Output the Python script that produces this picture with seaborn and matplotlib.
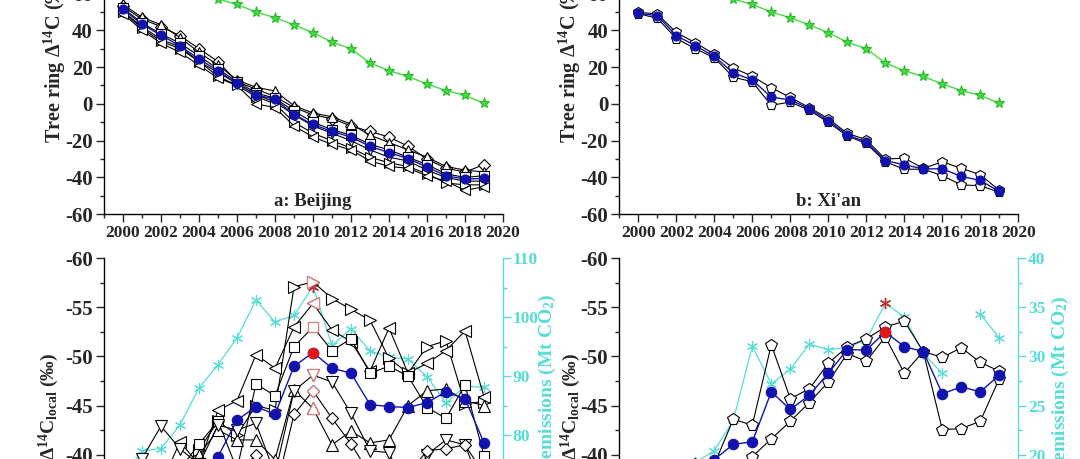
import numpy as np
import matplotlib
matplotlib.use("Agg")
import matplotlib.pyplot as plt
import seaborn as sns
from matplotlib.ticker import MultipleLocator

years = list(range(2000, 2020))

# clean air reference (green stars), same in both top panels
clean_air = [78, 74, 70, 66, 62, 57, 54, 49.9, 46.8, 42.9, 38.7, 33.5, 30, 22.2, 18, 14.9, 10.8, 7.2, 4.6, 0.3]

# Beijing tree ring D14C
bj_mean = [51.3, 43.2, 37.3, 31.5, 24.3, 18, 11.1, 4.9, 2.5, -5.8, -11.2, -15, -18, -23.1, -26.5, -29.7, -34.3, -39.1, -40.9, -40.5]
bj_diamond = [53, 46, 42, 37, 30, 23, 12, 8, 4, -2, -6, -8, -12, -15, -18, -23, -30, -35, -37, -33]
bj_up = [54, 47, 43, 36, 28, 21, 13, 9, 7, -1, -5, -7, -11, -17, -21, -25, -29, -34, -36, -37]
bj_square = [52, 44, 38, 33, 26, 19, 12, 6, 3, -4, -10, -14, -17, -22, -25, -29, -33, -38, -40, -39]
bj_down = [50, 42, 35, 31, 23, 17, 11, 5, 1, -6, -12, -16, -20, -25, -29, -31, -36, -40, -42, -42]
bj_right = [50, 41, 34, 30, 23, 15, 10, 4, 0, -10, -16, -20, -24, -29, -32, -34, -38, -43, -44, -44]
bj_left = [49, 40, 33, 28, 21, 14, 10, 0, -2, -12, -18, -22, -25, -31, -34, -35, -39, -42, -47, -45]

# Xi'an tree ring D14C
xa_mean = [49.2, 47.9, 37.1, 31.6, 25.8, 16.8, 13.0, 3.6, 2.2, -2.7, -9.1, -16.8, -20.8, -30.8, -33.1, -35.3, -35.3, -39.4, -41.6, -47.6]
xa_tree_a = [49.8, 48.8, 38.8, 33.2, 27.0, 19.5, 15.0, 8.8, 3.5, -2.0, -8.0, -16.0, -19.5, -30.0, -29.5, -35.0, -31.5, -35.0, -38.5, -47.0]
xa_tree_b = [49.0, 46.5, 35.5, 30.0, 25.0, 14.5, 12.0, -0.8, 1.0, -3.5, -10.0, -17.5, -21.5, -31.5, -35.5, -35.5, -39.0, -44.0, -44.5, -48.0]

# Beijing local D14C
bjl_mean = [-27, -32, -35, -37, -38.5, -39.8, -43.5, -44.9, -44.1, -49.0, -50.4, -48.8, -48.3, -45.1, -44.9, -44.8, -45.3, -46.4, -45.7, -41.2]
bjl_right = [-30, -33, -36, -38, -40.5, -43.4, -42.0, -45.0, -44.5, -57.1, -57.6, -55.9, -54.8, -53.7, -49.8, -48.3, -51.0, -51.6, -45.2, -45.4]
bjl_left = [-29, -34, -37, -41.3, -39.0, -44.5, -45.5, -50.2, -48.8, -53.0, -55.4, -52.7, -51.5, -48.5, -52.9, -48.3, -49.3, -50.6, -52.6, -45.9]
bjl_square = [-31, -33, -36, -38.5, -41.1, -43.4, -38.5, -47.2, -46.0, -51.0, -53.0, -50.6, -51.8, -48.3, -49.0, -48.0, -44.8, -43.7, -47.1, -39.9]
bjl_up = [-27, -30, -34, -37, -40.0, -42.5, -41.5, -41.5, -39.5, -46.6, -44.7, -41.0, -42.4, -41.2, -41.5, -45.0, -46.5, -46.7, -45.5, -45.0]
bjl_down = [-28, -39.6, -42.9, -40.6, -39.0, -43.0, -42.5, -43.2, -38.0, -46.5, -48.1, -47.4, -44.2, -40.4, -40.2, -36.0, -40.0, -41.5, -41.0, -36.0]
bjl_diamond = [-26, -31, -35, -37, -38, -39, -38, -40, -36, -44.1, -46.5, -43.7, -41.1, -38, -38, -38, -40.4, -40.6, -41.0, -38]
bj_emis = [73, 77.3, 77.7, 81.7, 88, 91.9, 96.5, 102.9, 99.2, 100.3, 105.2, 95.2, 98.0, 94.3, 93.2, 92.9, 89.9, 85.4, 88.3, 88.1]

# Xi'an local D14C
xal_mean = [-35, -37, -36, -38, -39.5, -41.05, -41.3, -46.4, -44.6, -46.05, -48.3, -50.7, -50.65, -52.5, -51.0, -50.5, -46.2, -46.9, -46.4, -48.1]
xal_a = [-34, -36, -36, -37, -39, -43.6, -43.0, -51.2, -45.7, -46.7, -49.3, -51.0, -51.8, -53.0, -53.6, -50.5, -49.9, -50.9, -49.4, -48.5]
xal_b = [-35, -38, -36, -39, -38.5, -38.0, -39.8, -41.6, -43.4, -45.3, -47.4, -50.3, -49.5, -52.0, -48.3, -50.5, -42.55, -42.65, -43.4, -47.75]
xa_emis = [16, 17, 18, 19.2, 20.4, 23.5, 31.05, 27.2, 28.7, 31.25, 30.7, 30.9, 31.7, 35.4, 34.05, 30.3, 28.3, np.nan, 34.3, 31.9]

bj_peak = 2010
xa_peak = 2013

BLUE = "#1212AE"
GREEN = "#3FDF3F"
CYAN = "#55DDD5"

sns.set_style("ticks")
plt.rcParams["font.family"] = ["Liberation Serif", "DejaVu Serif"]
plt.rcParams["font.weight"] = "bold"
plt.rcParams["axes.labelweight"] = "bold"
plt.rcParams["axes.unicode_minus"] = False
plt.rcParams["mathtext.fontset"] = "custom"
plt.rcParams["mathtext.rm"] = "Liberation Serif:bold"
plt.rcParams["mathtext.it"] = "Liberation Serif:bold:italic"
plt.rcParams["mathtext.bf"] = "Liberation Serif:bold"


def draw(ax, y, marker, ms, color, mfc, mec, lw=0.8, z=2):
    y = np.asarray(y, dtype=float)
    x = np.asarray(years)
    ok = ~np.isnan(y)
    # split into runs so gaps stay open
    start = None
    for i in range(len(y) + 1):
        if i < len(y) and ok[i]:
            if start is None:
                start = i
        elif start is not None:
            sns.lineplot(x=x[start:i], y=y[start:i], ax=ax, marker=marker, markersize=ms,
                         color=color, markerfacecolor=mfc, markeredgecolor=mec,
                         markeredgewidth=0.8, linewidth=lw, zorder=z, legend=False)
            start = None


def style_axis(ax):
    ax.set_xlim(1999, 2020)
    ax.xaxis.set_major_locator(MultipleLocator(2))
    ax.xaxis.set_minor_locator(MultipleLocator(1))
    ax.tick_params(axis="x", which="major", direction="out", length=6, width=1,
                   labelsize=12.5, pad=2)
    ax.tick_params(axis="y", which="major", direction="out", length=6, width=1, labelsize=15,
                   pad=2)
    ax.tick_params(which="minor", direction="out", length=3, width=1)
    ax.set_xlabel("")
    for s in ax.spines.values():
        s.set_linewidth(1)
        s.set_color("black")


fig = plt.figure(figsize=(10.8, 4.59), dpi=100)
W, H = 1080, 459
aw, ah = 399 / W, 294.5 / H
top_b = 1 - 214.3 / H
bot_b = 1 - 552.8 / H
lefts = [104 / W, 619.3 / W]

ax_a = fig.add_axes([lefts[0], top_b, aw, ah])
ax_b = fig.add_axes([lefts[1], top_b, aw, ah])
ax_c = fig.add_axes([lefts[0], bot_b, aw, ah])
ax_d = fig.add_axes([lefts[1], bot_b, aw, ah])

# --- top panels ---
bj_trees = [(bj_diamond, "D", 6), (bj_up, "^", 7.5), (bj_square, "s", 6.5),
            (bj_down, "v", 7.5), (bj_right, ">", 7.5), (bj_left, "<", 7.5)]
for vals, m, ms in bj_trees:
    draw(ax_a, vals, m, ms, "black", "white", "black")
draw(ax_a, bj_mean, "o", 6.5, BLUE, BLUE, BLUE, lw=1, z=4)
draw(ax_a, clean_air, "*", 8, GREEN, GREEN, "#2FB82F", lw=1, z=3)
ax_a.text(2010, -53, "a: Beijing", ha="center", va="center", fontsize=13.5, weight="bold")

for vals in [xa_tree_a, xa_tree_b]:
    draw(ax_b, vals, "p", 7.5, "black", "white", "black")
draw(ax_b, xa_mean, "o", 6.5, BLUE, BLUE, BLUE, lw=1, z=4)
draw(ax_b, clean_air, "*", 8, GREEN, GREEN, "#2FB82F", lw=1, z=3)
ax_b.text(2010, -53, "b: Xi'an", ha="center", va="center", fontsize=13.5, weight="bold")

for ax, lx in [(ax_a, -0.1228), (ax_b, -0.123)]:
    ax.set_ylim(-60, 100)
    ax.yaxis.set_major_locator(MultipleLocator(20))
    ax.yaxis.set_minor_locator(MultipleLocator(10))
    style_axis(ax)
    sns.despine(ax=ax)
    ax.set_ylabel("Tree ring \u0394$^{14}$C (\u2030)", fontsize=14.5, ha="left", va="center")
    ax.yaxis.set_label_coords(lx, 0.242)

# --- bottom panels ---
bjl_trees = [(bjl_right, ">", 8.5), (bjl_left, "<", 8.5), (bjl_square, "s", 7.5),
             (bjl_up, "^", 8.5), (bjl_down, "v", 8.5), (bjl_diamond, "D", 6.5)]
k = years.index(bj_peak)
for vals, m, ms in bjl_trees:
    draw(ax_c, vals, m, ms, "black", "white", "black")
    sns.lineplot(x=[bj_peak], y=[vals[k]], ax=ax_c, marker=m, markersize=ms, color="#E07070",
                 markerfacecolor="white", markeredgecolor="#E08080", markeredgewidth=0.9,
                 zorder=3, legend=False)
draw(ax_c, bjl_mean, "o", 7.5, BLUE, BLUE, BLUE, lw=1, z=4)
sns.lineplot(x=[bj_peak], y=[bjl_mean[k]], ax=ax_c, marker="o", markersize=7.5, color="#E01818",
             markerfacecolor="#E01818", markeredgecolor="#E01818", zorder=5, legend=False)

for vals in [xal_a, xal_b]:
    draw(ax_d, vals, "p", 8.5, "black", "white", "black")
draw(ax_d, xal_mean, "o", 7.5, BLUE, BLUE, BLUE, lw=1, z=4)
k = years.index(xa_peak)
sns.lineplot(x=[xa_peak], y=[xal_mean[k]], ax=ax_d, marker="o", markersize=7.5, color="#E01818",
             markerfacecolor="#E01818", markeredgecolor="#E01818", zorder=5, legend=False)

for ax, emis, peak, lim, major, minor, lx, rlx, rly in [
        (ax_c, bj_emis, bj_peak, (60, 110), 10, 5, -0.138, 1.112, 0.882),
        (ax_d, xa_emis, xa_peak, (10, 40), 5, 2.5, -0.121, 1.106, 0.875)]:
    ax.set_ylim(-30, -60)
    ax.yaxis.set_major_locator(MultipleLocator(5))
    ax.yaxis.set_minor_locator(MultipleLocator(2.5))
    style_axis(ax)
    ax.spines["top"].set_visible(False)
    ax.spines["right"].set_visible(False)
    ax.set_ylabel("\u0394$^{14}$C$_{\\mathrm{local}}$ (\u2030)", fontsize=14, ha="right", va="center")
    ax.yaxis.set_label_coords(lx, 0.678)

    tw = ax.twinx()
    draw(tw, emis, (6, 2, 0), 8, CYAN, CYAN, CYAN, lw=0.9, z=2)
    k = years.index(peak)
    sns.lineplot(x=[peak], y=[emis[k]], ax=tw, marker=(6, 2, 0), markersize=8, color="#C03030",
                 markeredgecolor="#C03030", markeredgewidth=1, zorder=3, legend=False)
    tw.set_ylim(*lim)
    tw.set_xlim(1999, 2020)
    tw.yaxis.set_major_locator(MultipleLocator(major))
    tw.yaxis.set_minor_locator(MultipleLocator(minor))
    tw.tick_params(axis="y", which="major", direction="out", length=6, width=1,
                   labelsize=12.5, colors=CYAN, pad=1)
    tw.tick_params(axis="y", which="minor", direction="out", length=3, width=1, colors=CYAN)
    for side in ["top", "left", "bottom"]:
        tw.spines[side].set_visible(False)
    tw.spines["right"].set_color(CYAN)
    tw.spines["right"].set_linewidth(1)
    tw.set_ylabel("Carbon emissions (Mt CO$_2$)", fontsize=14, color=CYAN,
                  ha="right", va="center")
    tw.yaxis.set_label_coords(rlx, rly)
    tw.set_zorder(ax.get_zorder() - 1)
    ax.patch.set_visible(False)

fig.savefig("out.png", dpi=100)
